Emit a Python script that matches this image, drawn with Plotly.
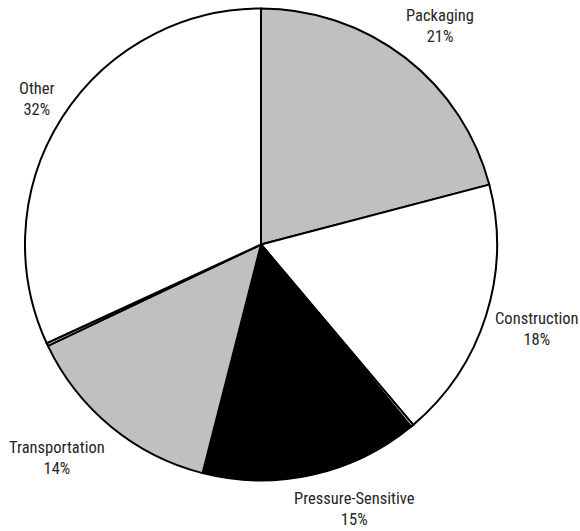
import math
import plotly.graph_objects as go

# Market share by end use (two thin unlabeled slivers sit between the main segments)
segments = ["Packaging", "Construction", "", "Pressure-Sensitive", "Transportation", "", "Other"]
shares = [21, 18, 0.2, 15, 14, 0.2, 32]
fills = ["#c0c0c0", "#ffffff", "#ffffff", "#000000", "#c0c0c0", "#ffffff", "#ffffff"]

W, H = 580, 531
# pie placement in pixels
CX, CY, R = 261, 244.5, 236

fig = go.Figure(go.Pie(
    labels=[s if s else f"_{i}" for i, s in enumerate(segments)],
    values=shares,
    sort=False,
    direction="clockwise",
    rotation=0,
    marker=dict(colors=fills, line=dict(color="#000000", width=2)),
    textinfo="none",
    hoverinfo="skip",
    showlegend=False,
    domain=dict(x=[(CX - R) / W, (CX + R) / W], y=[1 - (CY + R) / H, 1 - (CY - R) / H]),
))

# Labels sit just outside the rim at each slice's mid-angle
total = sum(shares)
label_font = dict(family="Roboto Condensed, Liberation Sans, sans-serif", size=16.5, color="#262626")
nudges = {"Packaging": (8, -4), "Construction": (0, 3), "Pressure-Sensitive": (26, 0),
          "Transportation": (-16, 4), "Other": (0, 1)}
cum = 0.0
annotations = []
for name, v in zip(segments, shares):
    mid = (cum + v / 2) / total * 2 * math.pi
    cum += v
    if not name:
        continue
    s, c = math.sin(mid), math.cos(mid)
    w = 6.5 * len(name)
    h = 42
    L = R + 14
    x = CX + L * s + w / 2 * s + nudges[name][0]
    y = CY - L * c - h / 2 * c + nudges[name][1]
    pct = round(v / total * 100)
    annotations.append(dict(
        x=x / W, y=1 - y / H, xref="paper", yref="paper",
        text=f"{name}<br>{pct}%", showarrow=False,
        xanchor="center", yanchor="middle", align="center", font=label_font,
    ))

fig.update_layout(
    width=W, height=H,
    margin=dict(l=0, r=0, t=0, b=0),
    paper_bgcolor="#ffffff",
    plot_bgcolor="#ffffff",
    annotations=annotations,
)

fig.write_html("out.html")
